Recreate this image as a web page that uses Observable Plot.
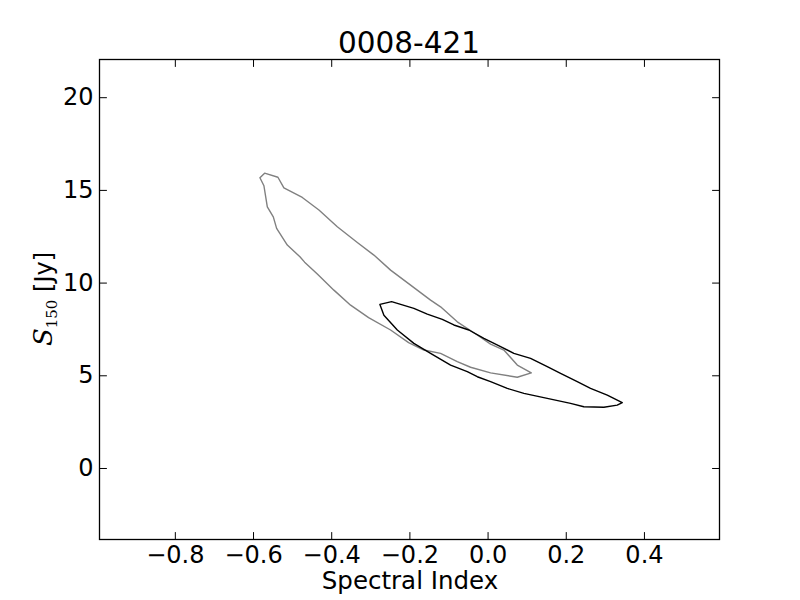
<!DOCTYPE html>
<html>
<head>
<meta charset="utf-8">
<script src="https://cdn.jsdelivr.net/npm/d3@7"></script>
<script src="https://cdn.jsdelivr.net/npm/@observablehq/plot@0.6"></script>
<style>
  body { margin: 0; background: #fff; }
  svg { display: block; }
</style>
</head>
<body>
<div id="chart"></div>
<script>
// ---- data ----
const title = "0008-421";
const xLabel = "Spectral Index";
const xTicks = [-0.8, -0.6, -0.4, -0.2, 0.0, 0.2, 0.4];
const yTicks = [0, 5, 10, 15, 20];
const xDomain = [-0.994, 0.592];
const yDomain = [-3.83, 22.06];

// gray contour (closed polygon)
const grayX = [-0.5836, -0.5716, -0.5376, -0.5223, -0.4752, -0.4327, -0.3857, -0.3345, -0.2921, -0.2494,
  -0.1982, -0.1471, -0.1215, -0.0788, -0.0276, 0.0064, 0.0404, 0.0747, 0.1105, 0.0747,
  0.0064, -0.0448, -0.0788, -0.1215, -0.1642, -0.2033, -0.2494, -0.3056, -0.3517, -0.3944,
  -0.4368, -0.4693, -0.4813, -0.5136, -0.5409, -0.5494, -0.5647, -0.5734];
const grayY = [15.68, 15.93, 15.71, 15.14, 14.62, 13.94, 13.04, 12.19, 11.51, 10.70,
  9.89, 9.08, 8.72, 7.91, 7.20, 6.71, 6.39, 5.58, 5.16, 4.92,
  5.16, 5.46, 5.76, 6.21, 6.39, 6.79, 7.47, 8.14, 8.81, 9.62,
  10.49, 11.13, 11.42, 12.05, 12.95, 13.57, 14.11, 15.25];

// black contour (closed polygon)
const blackX = [-0.2767, -0.2468, -0.1898, -0.1555, -0.1171, -0.0875, -0.0491, -0.0107, 0.0269, 0.0660,
  0.1087, 0.1514, 0.1854, 0.2281, 0.2621, 0.3049, 0.3432, 0.3304, 0.2962, 0.2450,
  0.2110, 0.1514, 0.0916, 0.0491, 0.0064, -0.0276, -0.0532, -0.0959, -0.1471, -0.1898,
  -0.2322, -0.2665];
const blackY = [8.85, 9.00, 8.64, 8.33, 8.04, 7.74, 7.47, 7.02, 6.63, 6.21,
  5.94, 5.49, 5.13, 4.68, 4.32, 3.96, 3.55, 3.42, 3.30, 3.33,
  3.51, 3.78, 4.05, 4.32, 4.69, 4.95, 5.22, 5.58, 6.21, 6.75,
  7.47, 8.27];

// ---- build closed rings ----
function ring(xs, ys) {
  const pts = xs.map((x, i) => ({x, y: ys[i]}));
  pts.push({...pts[0]});
  return pts;
}
const grayRing = ring(grayX, grayY);
const blackRing = ring(blackX, blackY);

const font = "DejaVu Sans, sans-serif";
const tickShape = {draw(ctx, l) { ctx.moveTo(0, 0); ctx.lineTo(0, -l); }};
const tickLen = 7;

const chart = Plot.plot({
  width: 800,
  height: 600,
  marginLeft: 99,
  marginRight: 81,
  marginTop: 59,
  marginBottom: 61,
  style: {fontFamily: font, background: "#fff", color: "#000"},
  x: {domain: xDomain, type: "linear"},
  y: {domain: yDomain, type: "linear"},
  marks: [
    Plot.line(grayRing, {x: "x", y: "y", stroke: "#808080", strokeWidth: 1.4}),
    Plot.line(blackRing, {x: "x", y: "y", stroke: "#000", strokeWidth: 1.4}),
    // inward ticks on all four sides
    Plot.vector(xTicks, {x: d => d, frameAnchor: "bottom", rotate: 0, length: tickLen, anchor: "start", shape: tickShape, stroke: "#000", strokeWidth: 1}),
    Plot.vector(xTicks, {x: d => d, frameAnchor: "top", rotate: 180, length: tickLen, anchor: "start", shape: tickShape, stroke: "#000", strokeWidth: 1}),
    Plot.vector(yTicks, {y: d => d, frameAnchor: "left", rotate: 90, length: tickLen, anchor: "start", shape: tickShape, stroke: "#000", strokeWidth: 1}),
    Plot.vector(yTicks, {y: d => d, frameAnchor: "right", rotate: -90, length: tickLen, anchor: "start", shape: tickShape, stroke: "#000", strokeWidth: 1}),
    Plot.axisX(xTicks, {tickSize: 0, tickPadding: 6, fontSize: 24, tickFormat: d3.format(".1f"), label: null}),
    Plot.axisY(yTicks, {tickSize: 0, tickPadding: 6, fontSize: 24, tickFormat: d3.format("d"), label: null}),
    Plot.frame({stroke: "#000", strokeWidth: 1.3})
  ]
});

document.getElementById("chart").appendChild(chart);

const svg = d3.select(chart);
// title
svg.append("text")
  .attr("x", 409).attr("y", 53)
  .attr("text-anchor", "middle")
  .attr("font-family", font).attr("font-size", 29.5)
  .attr("fill", "#000")
  .text(title);
// x label
svg.append("text")
  .attr("x", 410).attr("y", 589)
  .attr("text-anchor", "middle")
  .attr("font-family", font).attr("font-size", 24.5)
  .attr("fill", "#000")
  .text(xLabel);
// y label: S_150 [Jy]
const yl = svg.append("text")
  .attr("transform", "translate(52,299) rotate(-90)")
  .attr("text-anchor", "middle")
  .attr("font-size", 24)
  .attr("fill", "#000");
yl.append("tspan").attr("font-family", "DejaVu Serif, serif").attr("font-style", "italic").attr("font-size", 26).text("S");
yl.append("tspan").attr("font-family", "DejaVu Serif, serif").attr("font-size", 15).attr("dy", 5).text("150");
yl.append("tspan").attr("font-family", font).attr("dy", -5).text(" [Jy]");
</script>
</body>
</html>
